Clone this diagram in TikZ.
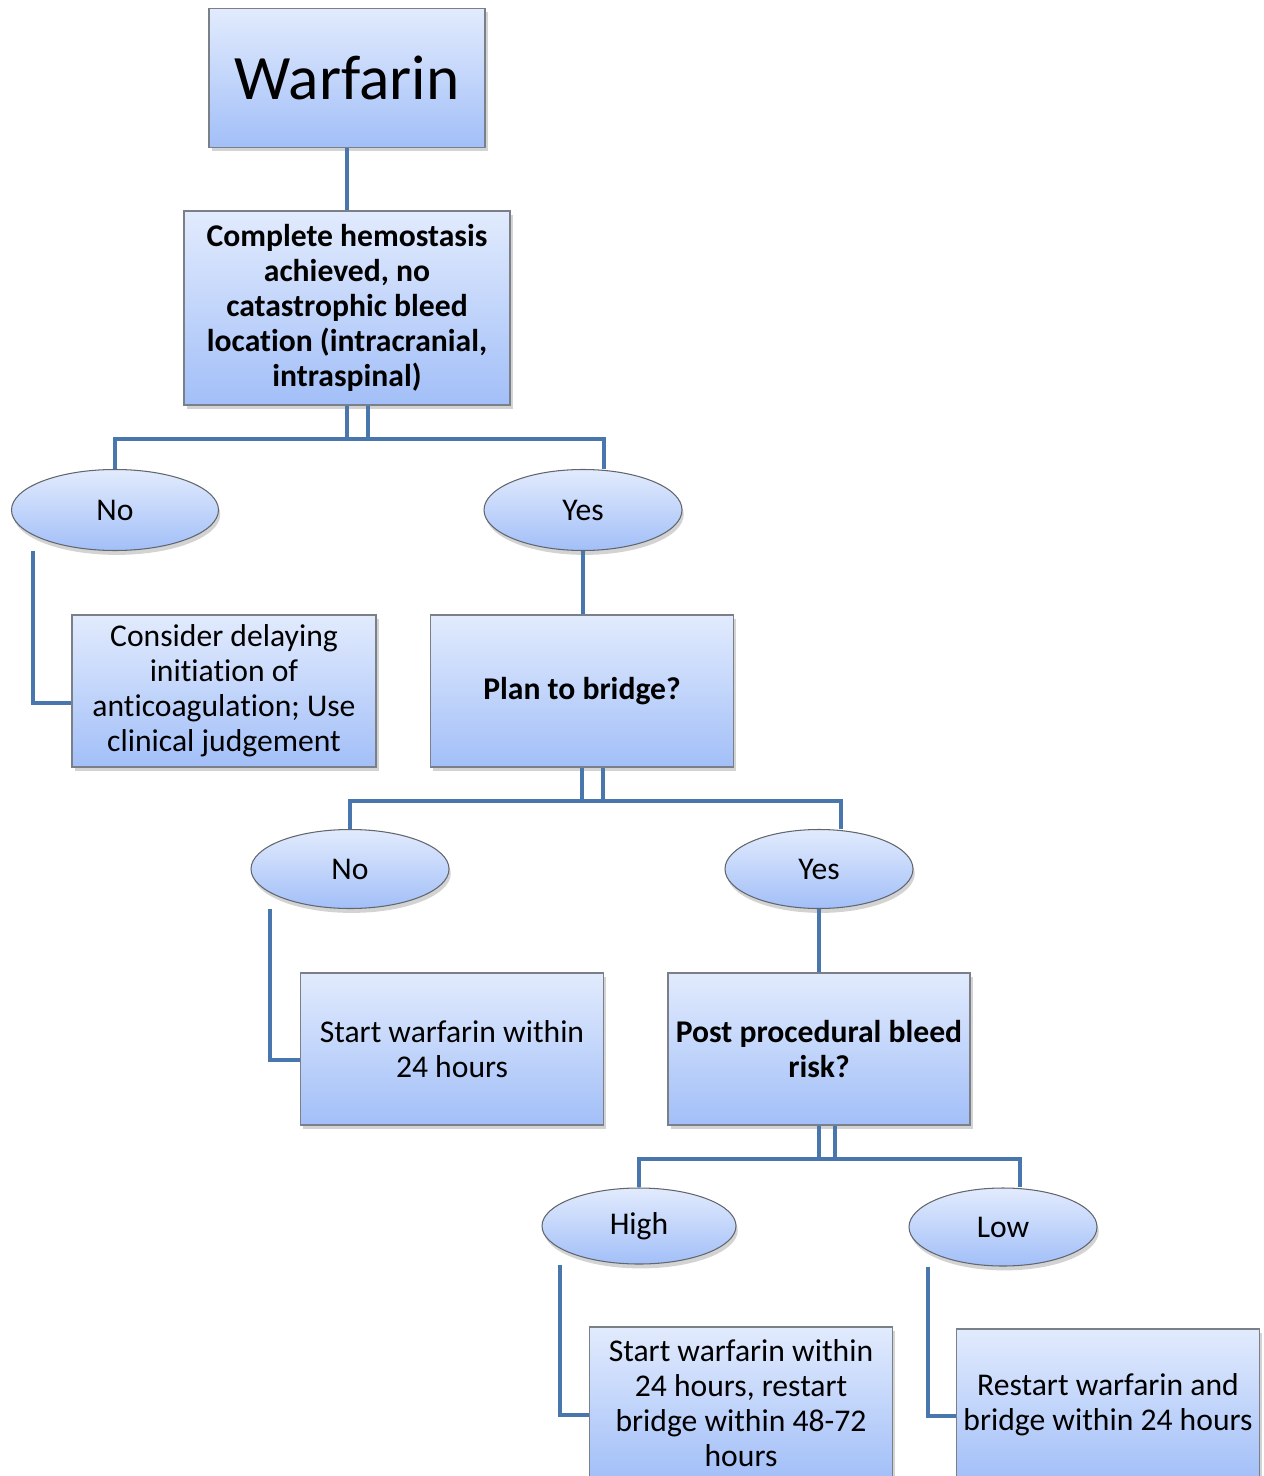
\documentclass[tikz,border=0pt]{standalone}
\usepackage{fontspec}
\setmainfont{Carlito}[Ligatures=NoCommon]
\usetikzlibrary{shapes.geometric,shadows}

\definecolor{boxtop}{HTML}{E2EBFD}
\definecolor{boxbot}{HTML}{A2BFF8}
\definecolor{linkblue}{HTML}{4A76AE}
\definecolor{edgegray}{HTML}{7A7F88}

\tikzset{
	stepbox/.style={rectangle, draw=edgegray, line width=0.7pt, top color=boxtop, bottom color=boxbot,
		align=center, inner sep=2pt, font=\fontsize{18}{20}\selectfont,
		drop shadow={shadow xshift=1.5pt, shadow yshift=-2pt, opacity=0.35}},
	answer/.style={ellipse, draw=edgegray!80!black, line width=0.6pt, top color=boxtop, bottom color=boxbot,
		inner sep=0pt, font=\fontsize{18}{20}\selectfont,
		drop shadow={shadow xshift=1pt, shadow yshift=-2.5pt, opacity=0.35}},
	link/.style={draw=linkblue, line width=2.4pt},
}

\begin{document}
\begin{tikzpicture}[x=0.2mm, y=-0.2mm]
	\useasboundingbox (0,0) rectangle (1263,1476);

	% top of the tree
	\node[stepbox, minimum width=55.2mm, minimum height=27.8mm, font=\fontsize{36}{40}\selectfont] (warfarin) at (347,78) {Warfarin};
	\node[stepbox, minimum width=65.2mm, minimum height=38.8mm, font=\bfseries\fontsize{18}{20}\selectfont] (hemo) at (347,308)
		{Complete hemostasis\\achieved, no\\catastrophic bleed\\location (intracranial,\\intraspinal)};

	\node[answer, minimum width=41.4mm, minimum height=16.2mm] (no1) at (115,510) {No};
	\node[answer, minimum width=39.6mm, minimum height=16.2mm] (yes1) at (583,510) {Yes};

	\node[stepbox, minimum width=60.8mm, minimum height=30.4mm] (consider) at (224,691)
		{Consider delaying\\initiation of\\anticoagulation; Use\\clinical judgement};
	\node[stepbox, minimum width=60.6mm, minimum height=30.4mm, font=\bfseries\fontsize{18}{20}\selectfont] (plan) at (582,691) {Plan to bridge?};

	% second level
	\node[answer, minimum width=39.6mm, minimum height=15.8mm] (no2) at (350,869) {No};
	\node[answer, minimum width=37.6mm, minimum height=15.8mm] (yes2) at (819,869) {Yes};

	\node[stepbox, minimum width=60.6mm, minimum height=30.4mm] (start) at (452,1049) {Start warfarin within\\24 hours};
	\node[stepbox, minimum width=60.4mm, minimum height=30.4mm, font=\bfseries\fontsize{18}{20}\selectfont] (post) at (819,1049)
		{Post procedural bleed\\risk?};

	% third level
	\node[answer, minimum width=38.8mm, minimum height=15.2mm] (high) at (639,1226) {High};
	\node[answer, minimum width=37.6mm, minimum height=15.6mm] (low) at (1003,1227) {Low};

	\node[stepbox, minimum width=60.6mm, minimum height=30.4mm] (highbox) at (741,1403)
		{Start warfarin within\\24 hours, restart\\bridge within 48-72\\hours};
	\node[stepbox, minimum width=60.6mm, minimum height=30.4mm] (lowbox) at (1108,1405)
		{Restart warfarin and\\bridge within 24 hours};

	% connectors
	\draw[link] (warfarin) -- (hemo);
	\draw[link] ([xshift=4.2mm]hemo.south) -- ++(0,33) -| (no1.north);
	\draw[link] (hemo.south) -- ++(0,33) -| ([xshift=4.2mm]yes1.north);
	\draw[link] ([xshift=-16.4mm]no1.south) |- ([yshift=-2.4mm]consider.west);
	\draw[link] (yes1.south) -- (yes1.south |- plan.north);

	\draw[link] ([xshift=4.2mm]plan.south) -- ++(0,33) -| (no2.north);
	\draw[link] (plan.south) -- ++(0,33) -| ([xshift=4.4mm]yes2.north);
	\draw[link] ([xshift=-16mm]no2.south) |- ([yshift=-2.2mm]start.west);
	\draw[link] (yes2) -- (post);

	\draw[link] ([xshift=3.2mm]post.south) -- ++(0,33) -| (high.north);
	\draw[link] (post.south) -- ++(0,33) -| ([xshift=3.4mm]low.north);
	\draw[link] ([xshift=-15.8mm]high.south) |- ([yshift=-2.4mm]highbox.west);
	\draw[link] ([xshift=-15mm]low.south) |- ([yshift=-2.2mm]lowbox.west);
\end{tikzpicture}
\end{document}
